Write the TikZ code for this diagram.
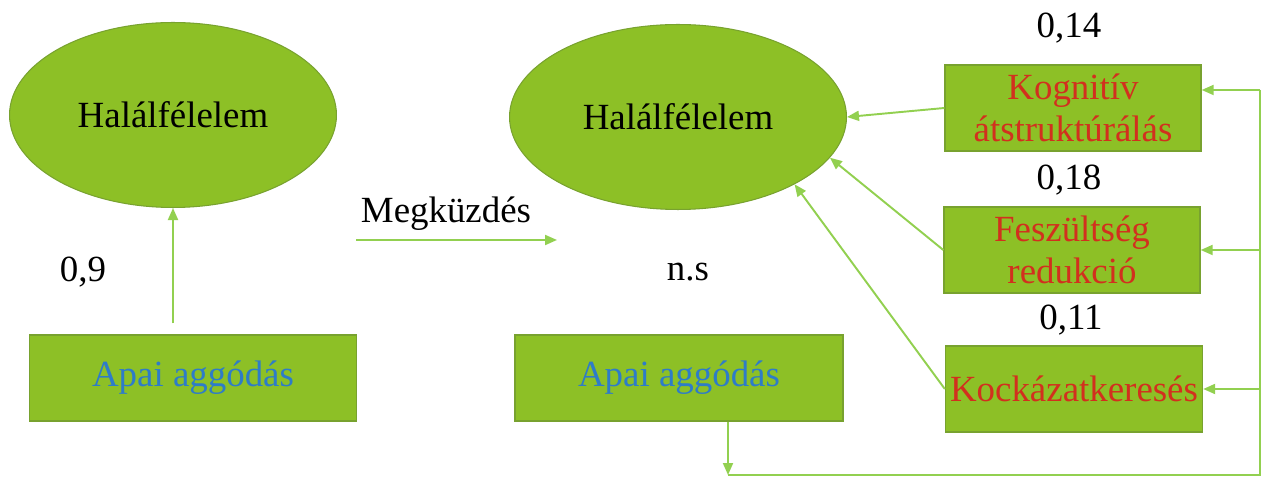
\documentclass[tikz,border=0pt]{standalone}
\usepackage{fontspec}
\setmainfont{Liberation Serif}
\newfontfamily\tnr{Liberation Serif}
\usetikzlibrary{arrows.meta,shapes.geometric}
\definecolor{boxgreen}{HTML}{8DC026}
\definecolor{edgegreen}{HTML}{78A22F}
\definecolor{linegreen}{HTML}{92D050}
\definecolor{txtblue}{HTML}{2E7CC8}
\definecolor{txtred}{HTML}{D2301E}

\begin{document}
\begin{tikzpicture}[x=0.02cm,y=-0.02cm,
 e/.style={ellipse,draw=edgegreen,fill=boxgreen,line width=0.6pt,minimum height=3.7cm,font=\tnr\fontsize{21}{24}\selectfont},
 b/.style={draw=edgegreen,fill=boxgreen,line width=0.8pt,align=center,inner sep=0pt,minimum height=1.72cm,font=\tnr\fontsize{21}{24}\selectfont},
 v/.style={font=\tnr\fontsize{21}{24}\selectfont},
 c/.style={draw=linegreen,line width=1.1pt},
 >={Triangle[length=2.4mm,width=2mm]}]
\useasboundingbox (0,0) rectangle (1261,479);
% left model
\node[e,minimum width=6.54cm] (hl) at (173,115) {Halálfélelem};
\node[b,minimum width=6.54cm,text=txtblue] (al) at (193,378) {Apai aggódás};
\node[v] (w1) at (83,272) {0,9};
\draw[c,->,shorten <=0.22cm] (al.north -| hl.south) -- (hl.south);
% coping arrow
\node[v] (meg) at (446,214) {Megküzdés};
\coordinate (m1) at (356,240);
\coordinate (m2) at (557,240);
\draw[c,->] (m1) -- (m2);
% right model
\node[e,minimum width=6.74cm] (hr) at (678,117) {Halálfélelem};
\node[b,minimum width=6.56cm,text=txtblue] (ar) at (679,378) {Apai aggódás};
\node[v] (ns) at (688,272) {n.s};
\node[b,minimum width=5.12cm,text=txtred] (kog) at (1073,108) {Kognitív\\átstruktúrálás};
\node[b,minimum width=5.12cm,text=txtred] (fesz) at (1072,250) {Feszültség\\redukció};
\node[b,minimum width=5.14cm,text=txtred] (kock) at (1074,389) {Kockázatkeresés};
\node[v] (w2) at (1069,28) {0,14};
\node[v] (w3) at (1069,180) {0,18};
\node[v] (w4) at (1071,320) {0,11};
\draw[c,->] (kog.west) -- (hr.east);
\draw[c,->] (fesz.west) -- (hr.-15);
\draw[c,->] (kock.west) -- (hr.-30);
% feedback line
\coordinate (rt) at (1260,90);
\coordinate (rb) at (1260,475);
\coordinate (bl) at (728,475);
\draw[c] (rt) -- (rb) -- (bl);
\draw[c,->] (ar.south -| bl) -- (bl);
\draw[c,->] (rt) -- (kog.east |- rt);
\draw[c,->] (rb |- fesz.east) -- (fesz.east);
\draw[c,->] (rb |- kock.east) -- (kock.east);
\end{tikzpicture}
\end{document}
